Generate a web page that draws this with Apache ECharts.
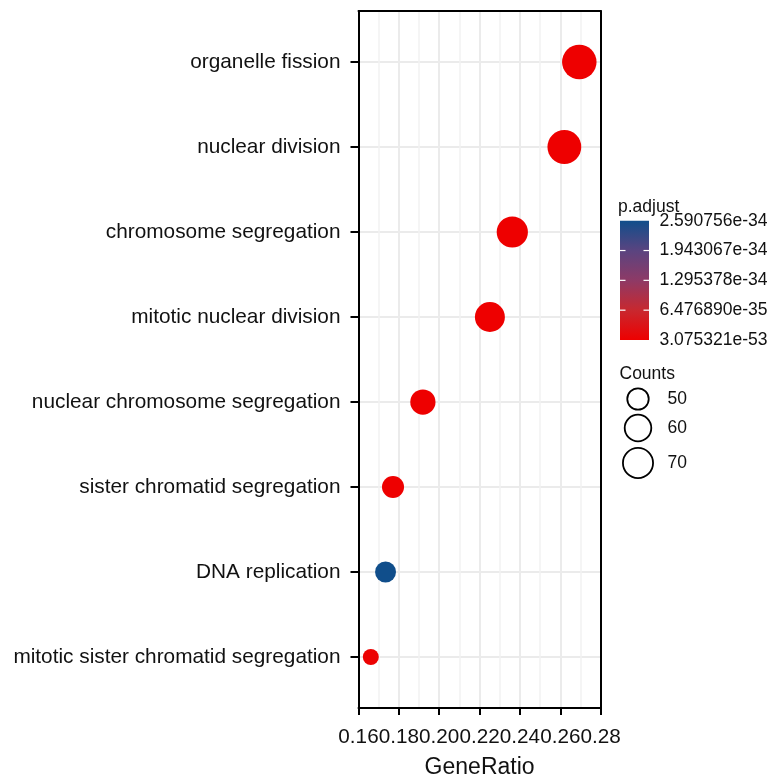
<!DOCTYPE html>
<html><head><meta charset="utf-8">
<script src="https://cdn.jsdelivr.net/npm/echarts@6/dist/echarts.min.js"></script>
<style>html,body{margin:0;padding:0;background:#fff}#c{width:771px;height:780px}</style>
</head><body><div id="c"></div>
<script>
// ---- data ----
const terms = [
  'organelle fission',
  'nuclear division',
  'chromosome segregation',
  'mitotic nuclear division',
  'nuclear chromosome segregation',
  'sister chromatid segregation',
  'DNA replication',
  'mitotic sister chromatid segregation'
];
const geneRatio = [0.2694, 0.2620, 0.2362, 0.2251, 0.1919, 0.1771, 0.1734, 0.1661];
const counts = [73, 71, 64, 61, 52, 48, 47, 45];
const pAdjust = [3.075321e-53, 5.6e-52, 2.1e-48, 4.3e-47, 1.8e-40, 6.2e-37, 2.590756e-34, 3.4e-36];
const xTicks = [0.16, 0.18, 0.20, 0.22, 0.24, 0.26, 0.28];
const colorbarTicks = [2.590756e-34, 1.943067e-34, 1.295378e-34, 6.476890e-35, 3.075321e-53];
const sizeBreaks = [50, 60, 70];

// ---- styles ----
const FONT = "'Liberation Sans', Arial, sans-serif";
const TXT = '#111';
const gradColors = ['#EE0000', '#C8282F', '#8E3A66', '#5A4480', '#104E8B']; // low -> high
const cMin = Math.min(...counts), cMax = Math.max(...counts);
const pMin = colorbarTicks[colorbarTicks.length - 1], pMax = colorbarTicks[0];
function diam(c) { return 16 + 18.5 * Math.sqrt(Math.max(0, (c - cMin) / (cMax - cMin))); }

const data = terms.map((t, i) => [geneRatio[i], i + 1, counts[i], pAdjust[i], t]);
const idx = terms.map((_, i) => i + 1);

const chart = echarts.init(document.getElementById('c'), null, {renderer: 'canvas'});

// colorbar + size legend graphics
const cbX = 620, cbY = 220.7, cbW = 29, cbH = 119.3;
const LF = '17.5px ' + FONT;
const graphics = [];
graphics.push({
  type: 'text', left: 618, top: 198,
  style: {text: 'p.adjust', font: LF, fill: TXT}
});
graphics.push({
  type: 'rect', shape: {x: cbX, y: cbY, width: cbW, height: cbH},
  style: {fill: new echarts.graphic.LinearGradient(0, 0, 0, 1,
    gradColors.slice().reverse().map((c, i) => ({offset: i / (gradColors.length - 1), color: c})))},
  z: 10
});
colorbarTicks.forEach(v => {
  const y = cbY + (pMax - v) / (pMax - pMin) * cbH;
  if (v !== pMax && v !== pMin) {
    graphics.push({type: 'line', shape: {x1: cbX, y1: y, x2: cbX + 5.5, y2: y}, style: {stroke: '#fff', lineWidth: 1.2}, z: 11});
    graphics.push({type: 'line', shape: {x1: cbX + cbW - 5.5, y1: y, x2: cbX + cbW, y2: y}, style: {stroke: '#fff', lineWidth: 1.2}, z: 11});
  }
  graphics.push({
    type: 'text', x: 659.5, y: y,
    style: {text: v.toExponential(6), font: LF, fill: TXT, verticalAlign: 'middle', align: 'left'},
    z: 11
  });
});
graphics.push({
  type: 'text', x: 619.5, y: 374,
  style: {text: 'Counts', font: LF, fill: TXT, verticalAlign: 'middle'}
});
const legY = [399, 428, 463];
sizeBreaks.forEach((c, i) => {
  graphics.push({type: 'circle', shape: {cx: 638, cy: legY[i], r: diam(c) * 0.9 / 2},
    style: {fill: 'none', stroke: '#000', lineWidth: 1.8}, z: 11});
  graphics.push({type: 'text', x: 667.5, y: legY[i],
    style: {text: String(c), font: LF, fill: TXT, verticalAlign: 'middle'}, z: 11});
});

const xMin = xTicks[0], xMax = xTicks[xTicks.length - 1];
const yMin = 0.4, yMax = terms.length + 0.6;

chart.setOption({
  backgroundColor: '#fff',
  animation: false,
  grid: {left: 358.5, right: 170.3, top: 11, bottom: 72, show: true, borderWidth: 0, backgroundColor: '#fff', outerBoundsMode: 'none', containLabel: false},
  xAxis: [{
    type: 'value', min: xMin, max: xMax, interval: 0.02,
    name: 'GeneRatio', nameLocation: 'middle', nameGap: 48,
    nameTextStyle: {fontFamily: FONT, fontSize: 23, color: TXT},
    axisLine: {show: true, onZero: false, lineStyle: {color: '#000', width: 2}},
    axisTick: {show: true, length: 7, lineStyle: {color: '#000', width: 2}},
    axisLabel: {fontFamily: FONT, fontSize: 20.7, color: TXT, margin: 19, formatter: v => v.toFixed(2), showMinLabel: true, showMaxLabel: true, hideOverlap: false},
    splitLine: {show: true, lineStyle: {color: '#EBEBEB', width: 2}},
    minorTick: {show: false, splitNumber: 2},
    minorSplitLine: {show: true, lineStyle: {color: '#F2F2F2', width: 1.5}},
    z: 3
  }, {
    type: 'value', position: 'top', min: xMin, max: xMax,
    axisLine: {show: true, onZero: false, lineStyle: {color: '#000', width: 2}},
    axisTick: {show: false}, axisLabel: {show: false}, splitLine: {show: false},
    z: 3
  }],
  yAxis: [{
    type: 'value', min: yMin, max: yMax, inverse: true,
    axisLine: {show: true, onZero: false, lineStyle: {color: '#000', width: 2}},
    axisTick: {show: true, length: 8, lineStyle: {color: '#000', width: 2}, customValues: idx},
    axisLabel: {fontFamily: FONT, fontSize: 20.8, color: TXT, margin: 18, customValues: idx, formatter: v => terms[Math.round(v) - 1] || ''},
    splitLine: {show: true, lineStyle: {color: '#EBEBEB', width: 2}},
    z: 3
  }, {
    type: 'value', position: 'right', min: yMin, max: yMax, inverse: true,
    axisLine: {show: true, onZero: false, lineStyle: {color: '#000', width: 2}},
    axisTick: {show: false}, axisLabel: {show: false}, splitLine: {show: false},
    z: 3
  }],
  visualMap: {
    show: false, type: 'continuous', dimension: 3, min: pMin, max: pMax,
    inRange: {color: gradColors}, seriesIndex: 0
  },
  series: [{
    type: 'scatter',
    xAxisIndex: 0, yAxisIndex: 0,
    data: data,
    symbol: 'circle',
    symbolSize: v => diam(v[2]),
    itemStyle: {opacity: 1},
    z: 5
  }],
  graphic: graphics
});
</script></body></html>
